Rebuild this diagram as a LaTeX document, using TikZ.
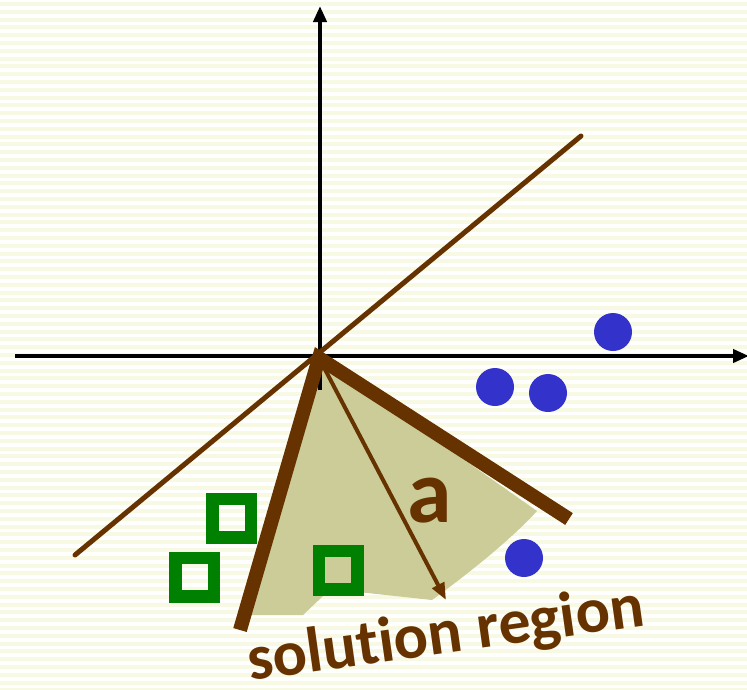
\documentclass[tikz,border=0pt]{standalone}
\usepackage{fontspec}
\setmainfont{Carlito}[Ligatures=NoCommon]
\usetikzlibrary{arrows.meta}
\definecolor{brownc}{HTML}{663300}
\definecolor{tanc}{HTML}{CCCC99}
\definecolor{greenc}{HTML}{008000}
\definecolor{bluec}{HTML}{3333CC}
\definecolor{stripec}{HTML}{F7F9E2}
\tikzset{
  axis/.style={line width=4pt, black, -{Triangle[length=16pt,width=13pt]}},
  thinline/.style={line width=5pt, brownc, line cap=round},
  thickline/.style={line width=14pt, brownc},
  vecarrow/.style={line width=4pt, brownc, -{Triangle[length=17pt,width=13pt]}},
  sqbox/.style={draw=greenc, line width=12.5pt, minimum size=38.5pt, inner sep=0pt, shape=rectangle},
  dot/.style={circle, fill=bluec, minimum size=38pt, inner sep=0pt},
  lbl/.style={text=brownc, font=\bfseries, inner sep=0pt}
}
\begin{document}
\begin{tikzpicture}[x=1pt,y=-1pt]
\useasboundingbox (0,0) rectangle (747,689);
\clip (0,0) rectangle (747,689);
\fill[white] (0,0) rectangle (747,689);
\foreach \i in {0,...,88} {
  \fill[stripec] (0,{2+\i*7.8}) rectangle (747,{6+\i*7.8});
}
% coordinates
\coordinate (O) at (319,358);
\coordinate (Ybot) at (320,390);
\coordinate (Ytop) at (320,6);
\coordinate (Xl) at (15,356);
\coordinate (Xr) at (749,356);
\coordinate (Ta) at (75,555);
\coordinate (Tb) at (581,136);
\coordinate (Ka) at (240,630);
\coordinate (Kb) at (569,519);
\coordinate (Ae) at (446,600);
% solution region fill
\fill[tanc] (O) -- (537,511) .. controls (515,535) and (480,565) .. (432,600)
  -- (340,590) -- (323,596) -- (303,615) -- (246,615) -- cycle;
% axes
\draw[axis] (Ybot) -- (Ytop);
\draw[axis] (Xl) -- (Xr);
% thin separating line
\draw[thinline] (Ta) -- (Tb);
% thick boundary lines
\draw[thickline] (Ka) -- (O) -- (Kb);
% vector a
\draw[vecarrow] (O) -- (Ae);
% squares
\node[sqbox] (s1) at (231.5,518) {};
\node[sqbox] (s2) at (194.5,577) {};
\node[sqbox] (s3) at (338,570) {};
% circles
\node[dot] (c1) at (613,332) {};
\node[dot] (c2) at (495,387) {};
\node[dot] (c3) at (548,393) {};
\node[dot] (c4) at (524,558) {};
% labels
\node[lbl, anchor=base, font=\bfseries\fontsize{90}{100}\selectfont] (la) at (430,522) {a};
\node[lbl, anchor=base west, rotate=8, font=\bfseries\fontsize{64}{70}\selectfont] (ls) at (250,681) {solut\kern0pt ion region};
\end{tikzpicture}
\end{document}
